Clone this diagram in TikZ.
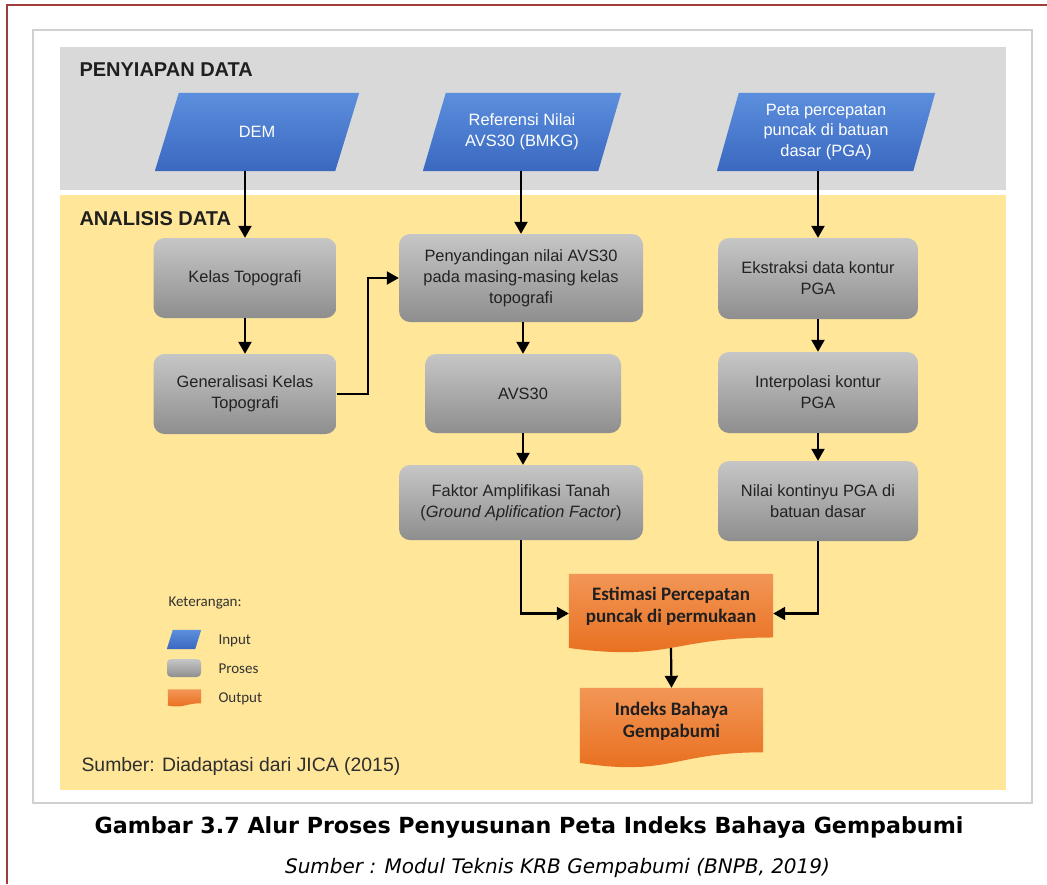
\documentclass[tikz,border=0pt]{standalone}
\usepackage{fontspec}
\setmainfont{Liberation Sans}
\newfontfamily\legendfont{Carlito}
\newfontfamily\captionfont{DejaVu Sans}
\usetikzlibrary{arrows.meta,calc}

\pgfdeclarelayer{bands}
\pgfdeclarelayer{shapes}
\pgfsetlayers{bands,shapes,main}

\definecolor{frameRed}{HTML}{A03C3C}
\definecolor{frameGray}{HTML}{D0D0D0}
\definecolor{bandGray}{HTML}{D9D9D9}
\definecolor{bandYellow}{HTML}{FFE699}
\definecolor{inTop}{HTML}{5C8FDD}
\definecolor{inBot}{HTML}{3A68C0}
\definecolor{procTop}{HTML}{C6C6C6}
\definecolor{procBot}{HTML}{8E8E8E}
\definecolor{procText}{HTML}{222222}
\definecolor{outTop}{HTML}{F29656}
\definecolor{outBot}{HTML}{E86C1A}

% slanted input box around a named node (#2 = horizontal shift of the top/bottom edge)
\newcommand\slantbox[2]{%
  \shade[top color=inTop,bottom color=inBot]
    ($(#1.north west)+(#2,0)$) -- ($(#1.north east)+(#2,0)$) --
    ($(#1.south east)-(#2,0)$) -- ($(#1.south west)-(#2,0)$) -- cycle;}
% document shape with a wavy bottom edge around a named node
\newcommand\docshape[1]{%
  \shade[top color=outTop,bottom color=outBot]
    (#1.north west) -- (#1.north east) --
    ($(#1.north east)!0.802!(#1.south east)$)
    .. controls ($(#1.north)!0.802!(#1.south)$) and ($(#1.north)!1.107!(#1.south)$) ..
    ($(#1.north west)!0.934!(#1.south west)$) -- cycle;}

\tikzset{
  proc/.style={rounded corners=11pt, top color=procTop, bottom color=procBot, draw=none,
    text=procText, font=\fontsize{16.4}{21}\selectfont, align=center, inner sep=0pt},
  inbox/.style={text=white, font=\fontsize{16.4}{20.5}\selectfont, align=center, inner sep=0pt},
  outbox/.style={inner sep=0pt},
  outtext/.style={font=\legendfont\bfseries\fontsize{19}{22}\selectfont, text=black!88, align=center},
  lgtext/.style={font=\legendfont\fontsize{15}{17}\selectfont, text=black!80, anchor=west},
  bandlabel/.style={font=\bfseries\fontsize{20}{24}\selectfont, text=black!88, anchor=west},
  arr/.style={-{Triangle[width=13pt,length=12pt]}, line width=2.2pt, black},
}

\begin{document}
\begin{tikzpicture}[x=1pt,y=-1pt]
\useasboundingbox (0,0) rectangle (1047,884);

% page rules and picture frame
\begin{pgfonlayer}{bands}
  \fill[white] (0,0) rectangle (1047,884);
  \draw[frameRed, line width=2pt] (7,884) -- (7,4.5) -- (1047,4.5);
  \draw[frameGray, line width=1.2pt, fill=white] (33,30) rectangle (1032,803);
  \fill[bandGray] (60,47) rectangle (1006,190);
  \fill[bandYellow] (60,195) rectangle (1006,790);
\end{pgfonlayer}

\node[bandlabel] (lbl-prep) at (76,70) {PENYIAPAN DATA};
\node[bandlabel] (lbl-anal) at (76,219) {ANALISIS DATA};

% inputs
\node[inbox, minimum width=180pt, minimum height=78pt] (dem) at (257,132) {DEM};
\node[inbox, minimum width=175pt, minimum height=78pt] (ref) at (522,132) {Referensi Nilai\\AVS30 (BMKG)};
\node[inbox, minimum width=196pt, minimum height=78pt] (peta) at (826,132) {Peta percepatan\\puncak di batuan\\dasar (PGA)};

% processes
\node[proc, minimum width=183pt, minimum height=80pt] (kelas) at (245,278) {Kelas Topografi};
\node[proc, minimum width=183pt, minimum height=80pt] (gen) at (245,394) {Generalisasi Kelas\\Topografi};
\node[proc, minimum width=244pt, minimum height=88pt] (peny) at (521,278) {Penyandingan nilai AVS30\\pada masing-masing kelas\\topografi};
\node[proc, minimum width=196pt, minimum height=79pt] (avs) at (523,393.5) {AVS30};
\node[proc, minimum width=244pt, minimum height=75pt] (faktor) at (521,502.5) {Faktor Amplifikasi Tanah\\(\textit{Ground Aplification Factor})};
\node[proc, minimum width=200pt, minimum height=81pt] (ekst) at (818,278.5) {Ekstraksi data kontur\\PGA};
\node[proc, minimum width=200pt, minimum height=81pt] (interp) at (818,392.5) {Interpolasi kontur\\PGA};
\node[proc, minimum width=200pt, minimum height=80pt] (nilai) at (818,501) {Nilai kontinyu PGA di\\batuan dasar};

% outputs
\node[outbox, minimum width=204pt, minimum height=79pt] (est) at (671,613.5) {};
\node[outbox, minimum width=183pt, minimum height=80pt] (ind) at (671.5,728) {};
\node[outtext] (est-t) at ($(est)+(0,-7.5)$) {Estimasi Percepatan\\puncak di permukaan};
\node[outtext] (ind-t) at ($(ind)+(0,-7)$) {Indeks Bahaya\\Gempabumi};
\coordinate (est-b) at ($(est.north)!0.933!(est.south)$);

% legend
\node[lgtext] (lg-title) at (165,603) {Keterangan:};
\node[inner sep=0pt, minimum width=28pt, minimum height=19pt] (lg-in) at (184,639.5) {};
\node[proc, rounded corners=4pt, minimum width=34pt, minimum height=18pt] (lg-proc) at (184,668) {};
\node[outbox, minimum width=33pt, minimum height=17pt] (lg-out) at (184.5,698) {};
\node[lgtext] (lg-in-t) at (215,641) {Input};
\node[lgtext] (lg-proc-t) at (215,669) {Proses};
\node[lgtext] (lg-out-t) at (215,699) {Output};

\node[anchor=west, font=\fontsize{19.4}{22}\selectfont, text=black!82] (src) at (78,766) {Sumber: Diadaptasi dari JICA (2015)};

% shapes behind the texts
\begin{pgfonlayer}{shapes}
  \slantbox{dem}{12}
  \slantbox{ref}{11.5}
  \slantbox{peta}{11}
  \slantbox{lg-in}{3}
  \docshape{est}
  \docshape{ind}
  \docshape{lg-out}
\end{pgfonlayer}

% connectors
\draw[arr] (kelas.north |- dem.south) -- (kelas.north);
\draw[arr] (peny.north |- ref.south) -- (peny.north);
\draw[arr] (ekst.north |- peta.south) -- (ekst.north);
\draw[arr] (kelas) -- (gen);
\draw[arr] (gen.east) -- ++(31,0) |- (peny.west);
\draw[arr] (peny.south -| avs.north) -- (avs.north);
\draw[arr] (avs.south) -- (avs.south |- faktor.north);
\draw[arr] (ekst) -- (interp);
\draw[arr] (interp) -- (nilai);
\draw[arr] (faktor.south) |- (est.west);
\draw[arr] (nilai.south) |- (est.east);
\draw[arr] (est-b) -- (ind.north);

% caption
\node[font=\captionfont\bfseries\fontsize{22.2}{26}\selectfont] (cap) at (529,827) {Gambar 3.7 Alur Proses Penyusunan Peta Indeks Bahaya Gempabumi};
\node[font=\captionfont\itshape\fontsize{20}{23}\selectfont] (capsrc) at (557.5,868) {Sumber : Modul Teknis KRB Gempabumi (BNPB, 2019)};
\end{tikzpicture}
\end{document}
